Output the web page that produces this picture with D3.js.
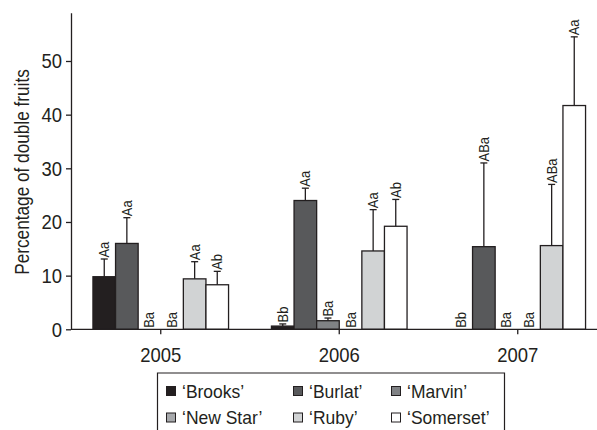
<!DOCTYPE html>
<html>
<head>
<meta charset="utf-8">
<script src="https://cdn.jsdelivr.net/npm/d3@7"></script>
<style>
  html, body { margin: 0; padding: 0; background: #fff; }
  svg { display: block; font-family: "Liberation Sans", Arial, Helvetica, sans-serif; }
</style>
</head>
<body>
<svg id="chart" width="597" height="430"></svg>
<script>
// Years on the x axis and cultivars within each year
const years = ["2005", "2006", "2007"];
const cultivars = ["‘Brooks’", "‘Burlat’", "‘Marvin’", "‘New Star’", "‘Ruby’", "‘Somerset’"];
const colors = ["#231f20", "#58595b", "#808285", "#a7a9ac", "#d1d3d4", "#ffffff"];

// Mean percentage of double fruits per cultivar (2005, 2006, 2007)
const brooksMean   = [9.8, 0.6, 0];
const burlatMean   = [16.0, 24.0, 15.4];
const marvinMean   = [0, 1.6, 0];
const newStarMean  = [0, 0, 0];
const rubyMean     = [9.4, 14.6, 15.6];
const somersetMean = [8.3, 19.2, 41.7];

// Standard errors (upper error bar length)
const brooksSE   = [3.3, 0.4, 0];
const burlatSE   = [4.8, 2.3, 15.6];
const marvinSE   = [0, 0.5, 0];
const newStarSE  = [0, 0, 0];
const rubySE     = [3.2, 7.7, 11.4];
const somersetSE = [2.5, 5.0, 12.8];

// Mean separation letters
const brooksLetters   = ["Aa", "Bb", "Bb"];
const burlatLetters   = ["Aa", "Aa", "ABa"];
const marvinLetters   = ["Ba", "Ba", "Ba"];
const newStarLetters  = ["Ba", "Ba", "Ba"];
const rubyLetters     = ["Aa", "Aa", "ABa"];
const somersetLetters = ["Ab", "Ab", "Aa"];

const yTicks = [0, 10, 20, 30, 40, 50];
const yTitle = "Percentage of double fruits";

const means = [brooksMean, burlatMean, marvinMean, newStarMean, rubyMean, somersetMean];
const ses = [brooksSE, burlatSE, marvinSE, newStarSE, rubySE, somersetSE];
const letters = [brooksLetters, burlatLetters, marvinLetters, newStarLetters, rubyLetters, somersetLetters];

const rows = [];
years.forEach((yr, yi) => {
  cultivars.forEach((c, ci) => {
    rows.push({ year: yr, cultivar: c, color: colors[ci],
      mean: means[ci][yi], se: ses[ci][yi], letter: letters[ci][yi] });
  });
});

const svg = d3.select("#chart");
const ink = "#231f20";

const x0 = d3.scaleBand().domain(years).range([71.5, 607]).padding(0);
const groupW = 135.6;
const x1 = d3.scaleBand().domain(cultivars).range([0, groupW]).padding(0);
const y = d3.scaleLinear().domain([0, 59]).range([329.3, 12.7]);

const gx = c => x0(c.year) + x0.bandwidth() / 2 - groupW / 2 + x1(c.cultivar);

// Bars
const plot = svg.append("g");
plot.selectAll("rect.bar")
  .data(rows.filter(d => d.mean > 0))
  .join("rect")
  .attr("class", "bar")
  .attr("x", d => gx(d))
  .attr("width", x1.bandwidth())
  .attr("y", d => y(d.mean))
  .attr("height", d => y(0) - y(d.mean))
  .attr("fill", d => d.color)
  .attr("stroke", ink)
  .attr("stroke-width", 1.3);

// Error bars (upper only)
const errRows = rows.filter(d => d.se > 0);
plot.selectAll("line.err")
  .data(errRows)
  .join("line")
  .attr("class", "err")
  .attr("x1", d => gx(d) + x1.bandwidth() / 2)
  .attr("x2", d => gx(d) + x1.bandwidth() / 2)
  .attr("y1", d => y(d.mean))
  .attr("y2", d => y(d.mean + d.se))
  .attr("stroke", ink)
  .attr("stroke-width", 1.3);
plot.selectAll("line.cap")
  .data(errRows)
  .join("line")
  .attr("class", "cap")
  .attr("x1", d => gx(d) + x1.bandwidth() / 2 - 3.5)
  .attr("x2", d => gx(d) + x1.bandwidth() / 2 + 3.5)
  .attr("y1", d => y(d.mean + d.se))
  .attr("y2", d => y(d.mean + d.se))
  .attr("stroke", ink)
  .attr("stroke-width", 1.3);

// Letters above each bar, rotated
plot.selectAll("text.lbl")
  .data(rows)
  .join("text")
  .attr("class", "lbl cond")
  .attr("data-k", 0.92)
  .attr("transform", d => `translate(${gx(d) + x1.bandwidth() / 2},${y(d.mean + d.se) - 1.5}) rotate(-90)`)
  .attr("dy", "0.36em")
  .attr("text-anchor", "start")
  .attr("font-size", 14)
  .attr("fill", ink)
  .text(d => d.letter);

// Axes
const yAxis = svg.append("g")
  .attr("transform", "translate(71,0)")
  .call(d3.axisLeft(y).tickValues(yTicks).tickSize(5).tickSizeOuter(0).tickPadding(4));
const xAxis = svg.append("g")
  .attr("transform", `translate(0,${y(0)})`)
  .call(d3.axisBottom(x0).tickSize(5).tickSizeOuter(0).tickPadding(12.5));

[yAxis, xAxis].forEach(g => {
  g.select(".domain").attr("stroke", ink).attr("stroke-width", 1.3);
  g.selectAll(".tick line").attr("stroke", ink).attr("stroke-width", 1.3);
  g.selectAll(".tick text")
    .attr("class", "cond")
    .attr("data-k", 0.88)
    .attr("font-size", 21)
    .attr("font-family", "Liberation Sans, Arial, sans-serif")
    .attr("fill", ink);
});
// x axis line runs from the y axis to the right edge
xAxis.select(".domain").attr("d", `M71,0H607`);

// Y axis title
svg.append("text")
  .attr("class", "cond")
  .attr("data-k", 0.86)
  .attr("transform", "translate(29,172) rotate(-90)")
  .attr("text-anchor", "middle")
  .attr("font-size", 20)
  .attr("fill", ink)
  .text(yTitle);

// Legend
const legend = svg.append("g");
legend.append("path")
  .attr("d", "M157.5,432V373H504.5V432")
  .attr("fill", "none")
  .attr("stroke", ink)
  .attr("stroke-width", 1.2);
const colX = [166, 293, 391];
const rowY = [397.5, 424];
cultivars.forEach((c, i) => {
  const col = i % 3, row = Math.floor(i / 3);
  const g = legend.append("g").attr("transform", `translate(${colX[col]},${rowY[row]})`);
  g.append("rect")
    .attr("x", 0.5).attr("y", -11).attr("width", 9).attr("height", 9)
    .attr("fill", colors[i]).attr("stroke", ink).attr("stroke-width", 1);
  g.append("text")
    .attr("class", "cond")
    .attr("data-k", 0.92)
    .attr("x", 16)
    .attr("font-size", 19)
    .attr("fill", ink)
    .text(c);
});

// Narrow the glyphs horizontally to a condensed look
svg.selectAll("text.cond").each(function () {
  const k = +this.getAttribute("data-k");
  const len = this.getComputedTextLength();
  this.setAttribute("textLength", (len * k).toFixed(2));
  this.setAttribute("lengthAdjust", "spacingAndGlyphs");
});
</script>
</body>
</html>
